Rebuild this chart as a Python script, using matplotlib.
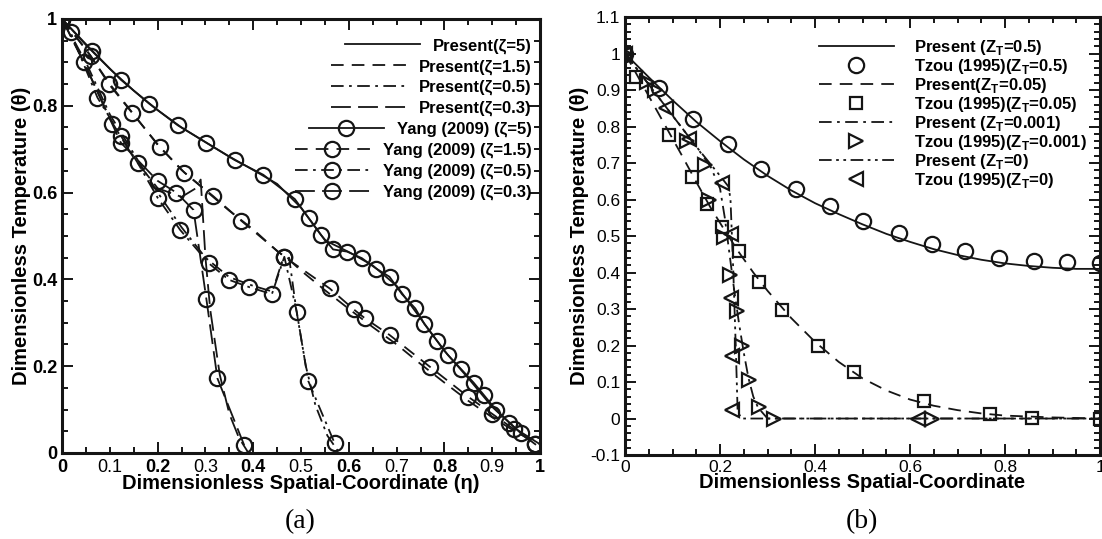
import numpy as np
import matplotlib
matplotlib.use("Agg")
import matplotlib.pyplot as plt

plt.rcParams['font.family'] = ['Liberation Sans', 'DejaVu Sans']
plt.rcParams['mathtext.fontset'] = 'custom'
plt.rcParams['mathtext.rm'] = 'Liberation Sans'
plt.rcParams['mathtext.bf'] = 'Liberation Sans:bold'

# ---------------- panel (a) data ----------------
# Present solution lines
pres5_x = [0, 0.05, 0.1, 0.15, 0.2, 0.25, 0.3, 0.35, 0.4, 0.45, 0.5, 0.55, 0.6, 0.65, 0.7, 0.75, 0.8, 0.85, 0.9, 0.95, 1.0]
pres5_y = [1.0, 0.94, 0.885, 0.835, 0.79, 0.75, 0.716, 0.683, 0.652, 0.62, 0.565, 0.49, 0.463, 0.432, 0.385, 0.31, 0.235, 0.172, 0.106, 0.055, 0.02]
pres15_x = [0, 0.05, 0.1, 0.15, 0.2, 0.25, 0.3, 0.35, 0.4, 0.45, 0.47, 0.5, 0.55, 0.6, 0.65, 0.7, 0.75, 0.8, 0.85, 0.9, 0.95, 1.0]
pres15_y = [1.0, 0.93, 0.85, 0.78, 0.71, 0.652, 0.605, 0.558, 0.515, 0.465, 0.45, 0.42, 0.375, 0.332, 0.29, 0.25, 0.205, 0.162, 0.12, 0.082, 0.048, 0.02]
pres05_x = [0, 0.05, 0.1, 0.15, 0.2, 0.25, 0.3, 0.35, 0.4, 0.44, 0.46, 0.475, 0.49, 0.51, 0.53, 0.555, 0.58]
pres05_y = [1.0, 0.90, 0.78, 0.69, 0.60, 0.52, 0.45, 0.405, 0.385, 0.372, 0.44, 0.45, 0.33, 0.20, 0.11, 0.04, 0.0]
pres03_x = [0, 0.05, 0.1, 0.15, 0.2, 0.25, 0.28, 0.29, 0.30, 0.31, 0.33, 0.35, 0.37, 0.39]
pres03_y = [1.0, 0.89, 0.77, 0.68, 0.61, 0.59, 0.61, 0.63, 0.45, 0.33, 0.18, 0.09, 0.035, 0.0]

# Yang (2009) points
yang5_x = [0.0, 0.063, 0.123, 0.182, 0.242, 0.302, 0.361, 0.421, 0.487, 0.516, 0.542, 0.567, 0.596, 0.627,
           0.657, 0.685, 0.711, 0.739, 0.758, 0.784, 0.807, 0.835, 0.861, 0.882, 0.908, 0.936, 0.96, 0.99]
yang5_y = [1.0, 0.927, 0.86, 0.805, 0.755, 0.715, 0.675, 0.641, 0.585, 0.541, 0.502, 0.469, 0.464, 0.449,
           0.425, 0.406, 0.366, 0.333, 0.297, 0.259, 0.226, 0.193, 0.162, 0.134, 0.099, 0.07, 0.045, 0.02]
yang15_x = [0.0, 0.06, 0.098, 0.147, 0.204, 0.256, 0.316, 0.375, 0.465, 0.56, 0.61, 0.634, 0.685, 0.769, 0.849, 0.90, 0.945, 0.99]
yang15_y = [1.0, 0.915, 0.85, 0.783, 0.706, 0.646, 0.592, 0.535, 0.452, 0.379, 0.331, 0.31, 0.272, 0.199, 0.13, 0.09, 0.055, 0.02]
yang05_x = [0.0, 0.018, 0.074, 0.123, 0.158, 0.20, 0.247, 0.307, 0.349, 0.392, 0.439, 0.465, 0.491, 0.515, 0.570]
yang05_y = [1.0, 0.969, 0.819, 0.731, 0.669, 0.588, 0.514, 0.437, 0.399, 0.382, 0.366, 0.452, 0.325, 0.166, 0.023]
yang03_x = [0.0, 0.046, 0.105, 0.123, 0.20, 0.239, 0.275, 0.302, 0.325, 0.381]
yang03_y = [1.0, 0.90, 0.758, 0.715, 0.627, 0.60, 0.56, 0.354, 0.172, 0.018]

# ---------------- panel (b) data ----------------
pz05_x = [0, 0.05, 0.1, 0.15, 0.2, 0.25, 0.3, 0.35, 0.4, 0.45, 0.5, 0.55, 0.6, 0.65, 0.7, 0.75, 0.8, 0.85, 0.9, 0.95, 1.0]
pz05_y = [1.0, 0.935, 0.872, 0.813, 0.76, 0.71, 0.665, 0.625, 0.59, 0.56, 0.532, 0.506, 0.484, 0.464, 0.448, 0.435, 0.425, 0.418, 0.413, 0.41, 0.41]
pz005_x = [0, 0.03, 0.06, 0.09, 0.12, 0.15, 0.18, 0.21, 0.24, 0.27, 0.30, 0.35, 0.40, 0.45, 0.50, 0.55, 0.60, 0.65, 0.70, 0.75, 0.80, 0.90, 1.0]
pz005_y = [1.0, 0.93, 0.86, 0.79, 0.72, 0.648, 0.578, 0.515, 0.455, 0.40, 0.35, 0.275, 0.21, 0.155, 0.11, 0.077, 0.052, 0.035, 0.023, 0.014, 0.008, 0.003, 0.0]
pz0001_x = [0, 0.05, 0.1, 0.15, 0.18, 0.2, 0.21, 0.22, 0.23, 0.24, 0.25, 0.26, 0.27, 0.28, 0.30, 1.0]
pz0001_y = [1.0, 0.915, 0.83, 0.745, 0.69, 0.63, 0.55, 0.45, 0.35, 0.26, 0.18, 0.11, 0.06, 0.03, 0.0, 0.0]
pz0_x = [0, 0.05, 0.1, 0.15, 0.2, 0.218, 0.222, 0.228, 0.233, 0.237, 0.245, 1.0]
pz0_y = [1.0, 0.915, 0.83, 0.745, 0.665, 0.635, 0.60, 0.40, 0.20, 0.02, 0.0, 0.0]

tz05_x = [0.0, 0.072, 0.144, 0.216, 0.287, 0.359, 0.431, 0.501, 0.576, 0.646, 0.716, 0.788, 0.861, 0.931, 1.0]
tz05_y = [1.0, 0.905, 0.822, 0.751, 0.684, 0.629, 0.582, 0.542, 0.507, 0.478, 0.46, 0.441, 0.432, 0.428, 0.425]
tz005_x = [0.0, 0.024, 0.093, 0.141, 0.172, 0.205, 0.239, 0.283, 0.331, 0.407, 0.483, 0.629, 0.768, 0.857, 1.0]
tz005_y = [1.0, 0.937, 0.776, 0.661, 0.588, 0.524, 0.458, 0.374, 0.298, 0.2, 0.127, 0.048, 0.012, 0.002, 0.0]
tz0001_x = [0.0, 0.046, 0.064, 0.13, 0.168, 0.176, 0.209, 0.22, 0.235, 0.246, 0.261, 0.281, 0.313, 0.646]
tz0001_y = [1.0, 0.923, 0.90, 0.76, 0.694, 0.599, 0.496, 0.394, 0.294, 0.2, 0.105, 0.032, 0.0, 0.0]
tz0_x = [0.0, 0.087, 0.135, 0.204, 0.224, 0.224, 0.226, 0.226, 0.616]
tz0_y = [1.0, 0.852, 0.765, 0.645, 0.505, 0.33, 0.17, 0.023, 0.0]

C = '#151515'
DASH = (7, 4.5)
LONGDASH = (11, 4)
DASHDOT = (7, 3, 1.5, 3)
DASHDOTDOT = (7, 2.5, 1.5, 2.5, 1.5, 2.5)


def style_axes(ax):
    for s in ax.spines.values():
        s.set_linewidth(2.2)
        s.set_color(C)
    ax.tick_params(which='both', direction='in', top=True, right=True, color=C, width=1.4)
    ax.tick_params(which='major', length=8)
    ax.tick_params(which='minor', length=4)


fig = plt.figure(figsize=(11.02, 5.39), dpi=100)

# ---------------- panel (a) ----------------
ax = fig.add_axes([0.0563, 0.1596, 0.4338, 0.8052])
lw = 1.3
ax.plot(pres5_x, pres5_y, color=C, lw=lw, label='Present(ζ=5)')
ax.plot(pres15_x, pres15_y, color=C, lw=lw, dashes=DASH, label='Present(ζ=1.5)')
ax.plot(pres05_x, pres05_y, color=C, lw=lw, dashes=DASHDOT, label='Present(ζ=0.5)')
ax.plot(pres03_x, pres03_y, color=C, lw=lw, dashes=LONGDASH, label='Present(ζ=0.3)')
mk = dict(marker='o', ms=11, mfc='none', mec=C, mew=1.6, color=C, lw=lw)
ax.plot(yang5_x, yang5_y, label='Yang (2009) (ζ=5)', **mk)
ax.plot(yang15_x, yang15_y, dashes=DASH, label='Yang (2009) (ζ=1.5)', **mk)
ax.plot(yang05_x, yang05_y, dashes=DASHDOT, label='Yang (2009) (ζ=0.5)', **mk)
ax.plot(yang03_x, yang03_y, dashes=LONGDASH, label='Yang (2009) (ζ=0.3)', **mk)

ax.set_xlim(0, 1)
ax.set_ylim(0, 1)
style_axes(ax)
ax.set_xticks([0, 0.2, 0.4, 0.6, 0.8, 1.0])
ax.set_xticklabels(['0', '0.2', '0.4', '0.6', '0.8', '1'], fontweight='bold', fontsize=13)
xminor = [0.05, 0.1, 0.15, 0.25, 0.3, 0.35, 0.45, 0.5, 0.55, 0.65, 0.7, 0.75, 0.85, 0.9, 0.95]
ax.set_xticks(xminor, minor=True)
ax.set_xticklabels(['', '0.1', '', '', '0.3', '', '', '0.5', '', '', '0.7', '', '', '0.9', ''], minor=True, fontsize=13)
ax.set_yticks([0, 0.2, 0.4, 0.6, 0.8, 1.0])
ax.set_yticklabels(['0', '0.2', '0.4', '0.6', '0.8', '1'], fontweight='bold', fontsize=13)
ax.set_yticks([0.05, 0.1, 0.15, 0.25, 0.3, 0.35, 0.45, 0.5, 0.55, 0.65, 0.7, 0.75, 0.85, 0.9, 0.95], minor=True)
ax.tick_params(axis='x', which='both', pad=4)
ax.set_xlabel('Dimensionless Spatial-Coordinate (η)', fontweight='bold', fontsize=14.5, labelpad=-1)
ax.set_ylabel('Dimensionless Temperature (θ)', fontweight='bold', fontsize=14.5, labelpad=1)

leg = ax.legend(loc='upper right', bbox_to_anchor=(1.0, 0.975), frameon=False,
                prop={'weight': 'bold', 'size': 12}, handlelength=4.5, handletextpad=0.8,
                labelspacing=0.33, borderpad=0.2, borderaxespad=0.3)
leg._legend_handle_box.get_children()[0].align = 'right'

# ---------------- panel (b) ----------------
bx = fig.add_axes([0.5672, 0.1558, 0.431, 0.8126])
bx.plot(pz05_x, pz05_y, color=C, lw=lw, label=r'Present (Z$_\mathbf{T}$=0.5)')
bx.plot(tz05_x, tz05_y, ls='none', marker='o', ms=11, mfc='none', mec=C, mew=1.6,
        label=r'Tzou (1995)(Z$_\mathbf{T}$=0.5)')
bx.plot(pz005_x, pz005_y, color=C, lw=lw, dashes=DASH, label=r'Present(Z$_\mathbf{T}$=0.05)')
bx.plot(tz005_x, tz005_y, ls='none', marker='s', ms=9, mfc='none', mec=C, mew=1.6,
        label=r'Tzou (1995)(Z$_\mathbf{T}$=0.05)')
bx.plot(pz0001_x, pz0001_y, color=C, lw=lw, dashes=DASHDOT, label=r'Present (Z$_\mathbf{T}$=0.001)')
bx.plot(tz0001_x, tz0001_y, ls='none', marker='>', ms=10, mfc='none', mec=C, mew=1.6,
        label=r'Tzou (1995)(Z$_\mathbf{T}$=0.001)')
bx.plot(pz0_x, pz0_y, color=C, lw=lw, dashes=DASHDOTDOT, label=r'Present (Z$_\mathbf{T}$=0)')
bx.plot(tz0_x, tz0_y, ls='none', marker='<', ms=10, mfc='none', mec=C, mew=1.6,
        label=r'Tzou (1995)(Z$_\mathbf{T}$=0)')

bx.set_xlim(0, 1)
bx.set_ylim(-0.1, 1.1)
style_axes(bx)
bx.set_xticks([0, 0.2, 0.4, 0.6, 0.8, 1.0])
bx.set_xticklabels(['0', '0.2', '0.4', '0.6', '0.8', '1'], fontsize=12.5)
bx.set_xticks(np.arange(0.05, 1.0, 0.05), minor=True)
bx.set_yticks(np.round(np.arange(-0.1, 1.11, 0.1), 1))
bx.set_yticklabels(['-0.1', '0', '0.1', '0.2', '0.3', '0.4', '0.5', '0.6', '0.7', '0.8', '0.9', '1', '1.1'], fontsize=12.5)
bx.set_yticks(np.arange(-0.1, 1.1, 0.02), minor=True)
bx.set_xlabel('Dimensionless Spatial-Coordinate', fontweight='bold', fontsize=14.5, labelpad=-1)
bx.set_ylabel('Dimensionless Temperature (θ)', fontweight='bold', fontsize=14.5, labelpad=1)
bx.legend(loc='upper right', bbox_to_anchor=(0.99, 0.972), frameon=False,
          prop={'weight': 'bold', 'size': 12}, handlelength=4.5, handletextpad=1.2,
          labelspacing=0.0, borderpad=0.2, borderaxespad=0.3)

fig.text(0.272, 0.033, '(a)', family='Liberation Serif', fontsize=20, ha='center', va='center')
fig.text(0.782, 0.033, '(b)', family='Liberation Serif', fontsize=20, ha='center', va='center')

fig.savefig('out.png', dpi=100)
